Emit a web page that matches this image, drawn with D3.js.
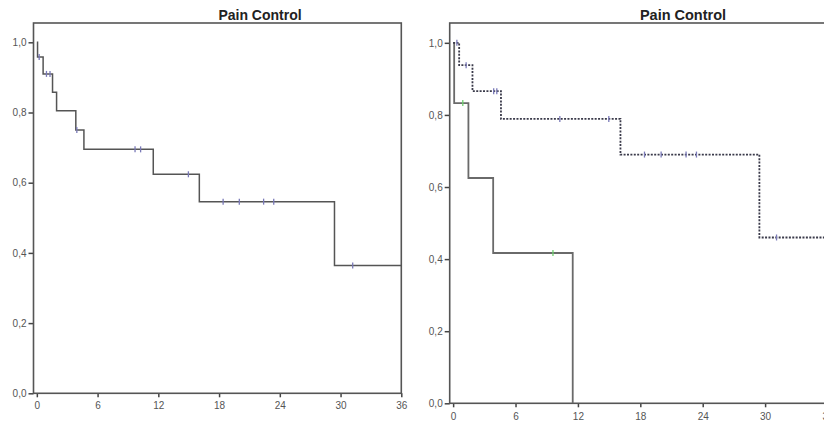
<!DOCTYPE html>
<html>
<head>
<meta charset="utf-8">
<script src="https://cdn.jsdelivr.net/npm/d3@7"></script>
<style>
  body { margin: 0; background: #fff; }
  svg { display: block; font-family: "Liberation Sans", Arial, sans-serif; }
</style>
</head>
<body>
<script>
// x ticks (months) and y ticks (cumulative survival)
const monthTicks = [0, 6, 12, 18, 24, 30, 36]
const survTicks = [0, 0.2, 0.4, 0.6, 0.8, 1.0]
const title = 'Pain Control'

// left panel: all patients
const allTimes = [0, 0.07, 0.62, 1.55, 1.95, 3.85, 4.65, 11.5, 16.05, 29.4]
const allSurv = [1, 0.958, 0.91, 0.858, 0.805, 0.75, 0.695, 0.624, 0.546, 0.364]
const allCensor = [0.23, 0.95, 1.3, 3.95, 9.7, 10.25, 14.97, 18.4, 20.0, 22.4, 23.4, 31.2]
const allEnd = 36

// right panel: group 1 (solid)
const g1Times = [0, 0.1, 1.47, 3.85, 11.5]
const g1Surv = [1, 0.833, 0.625, 0.417, 0]
const g1Censor = [0.93, 9.6]
const g1End = 11.5

// right panel: group 2 (dotted)
const g2Times = [0, 0.58, 1.86, 4.6, 16.09, 29.45]
const g2Surv = [1, 0.938, 0.866, 0.789, 0.69, 0.46]
const g2Censor = [0.36, 1.25, 3.9, 4.2, 10.26, 14.97, 18.4, 20.0, 22.4, 23.4, 31.1]
const g2End = 36

const svg = d3.select('body').append('svg')
  .attr('width', 824)
  .attr('height', 422)

function survAt(times, surv, t) {
  let v = surv[0]
  for (let i = 0; i < times.length; i++) {
    if (times[i] <= t) v = surv[i]
  }
  return v
}

function drawPanel(box, curves, titleX, titleSize, labelShift) {
  const x = d3.scaleLinear().domain([-0.33, 36]).range([box.left, box.right])
  const y = d3.scaleLinear().domain([0, 1.055]).range([box.bottom, box.top])

  const g = svg.append('g')

  g.append('text')
    .attr('x', titleX)
    .attr('y', 20)
    .attr('text-anchor', 'middle')
    .attr('font-weight', 'bold')
    .attr('font-size', titleSize)
    .attr('fill', '#222')
    .text(title)

  const yAxis = g.append('g')
    .attr('transform', `translate(${box.left}, 0)`)
    .call(d3.axisLeft(y).tickValues(survTicks).tickSize(5).tickPadding(2)
      .tickFormat(d => d.toFixed(1).replace('.', ',')))
  yAxis.select('.domain').remove()

  const xAxis = g.append('g')
    .attr('transform', `translate(0, ${box.bottom})`)
    .call(d3.axisBottom(x).tickValues(monthTicks).tickSize(4).tickPadding(labelShift)
      .tickFormat(d3.format('d')))
  xAxis.select('.domain').remove()

  g.selectAll('.tick line').attr('stroke', '#444').attr('stroke-width', 1.5)
  g.selectAll('.tick text')
    .attr('font-family', '"Liberation Sans", Arial, sans-serif')
    .attr('font-size', 10)
    .attr('fill', '#555')

  g.append('rect')
    .attr('x', box.left)
    .attr('y', box.top)
    .attr('width', box.right - box.left)
    .attr('height', box.bottom - box.top)
    .attr('fill', 'none')
    .attr('stroke', '#555')
    .attr('stroke-width', 1.6)

  const line = d3.line()
    .x(d => x(d[0]))
    .y(d => y(d[1]))
    .curve(d3.curveStepAfter)

  for (const c of curves) {
    const pts = c.times.map((t, i) => [t, c.surv[i]])
    pts.push([c.end, c.surv[c.surv.length - 1]])

    g.append('path')
      .datum(pts)
      .attr('fill', 'none')
      .attr('stroke', c.color)
      .attr('stroke-width', c.width)
      .attr('stroke-dasharray', c.dash)
      .attr('d', line)

    g.selectAll(null)
      .data(c.censor)
      .join('line')
      .attr('x1', d => x(d))
      .attr('x2', d => x(d))
      .attr('y1', d => y(survAt(c.times, c.surv, d)) - 3)
      .attr('y2', d => y(survAt(c.times, c.surv, d)) + 3)
      .attr('stroke', c.censorColor)
      .attr('stroke-width', 1.3)
  }
}

drawPanel({ left: 33.5, right: 401.3, top: 23, bottom: 393.3 }, [
  { times: allTimes, surv: allSurv, censor: allCensor, end: allEnd,
    color: '#555', width: 1.5, dash: null, censorColor: '#7a7ab8' }
], 260, 14, 5)

drawPanel({ left: 449.7, right: 827.5, top: 23, bottom: 403.3 }, [
  { times: g1Times, surv: g1Surv, censor: g1Censor, end: g1End,
    color: '#6a6a6a', width: 1.8, dash: null, censorColor: '#6fd06f' },
  { times: g2Times, surv: g2Surv, censor: g2Censor, end: g2End,
    color: '#3a3a4a', width: 1.8, dash: '2,1.4', censorColor: '#7a7ab8' }
], 683, 14.5, 6)
</script>
</body>
</html>
